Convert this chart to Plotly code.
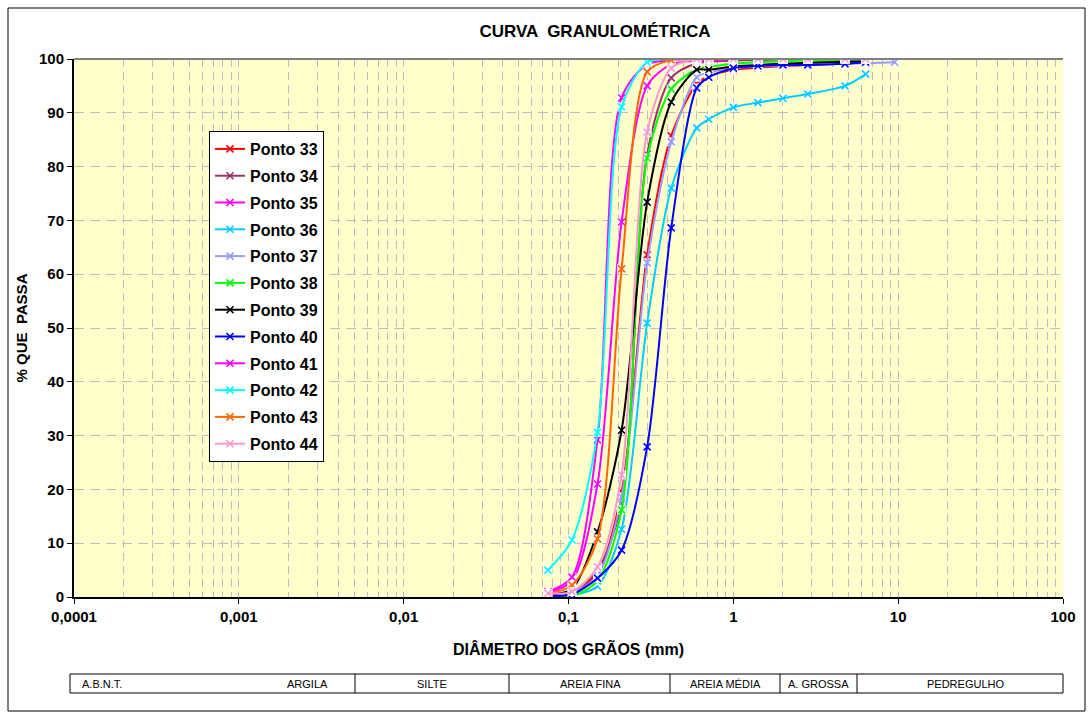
import plotly.graph_objects as go

# ---------------- data ----------------
diametros = [0.075, 0.105, 0.15, 0.21, 0.3, 0.42, 0.6, 0.71, 1.0, 1.41, 2.0, 2.83, 4.76, 6.35, 9.52]

series_names = ["Ponto 33", "Ponto 34", "Ponto 35", "Ponto 36", "Ponto 37", "Ponto 38",
                "Ponto 39", "Ponto 40", "Ponto 41", "Ponto 42", "Ponto 43", "Ponto 44"]
series_colors = ["#FF0000", "#993366", "#FF00FF", "#00CCFF", "#9999FF", "#00FF00",
                 "#000000", "#0000FF", "#FF00FF", "#00FFFF", "#FF6600", "#FF99CC"]

p33 = [0.3, 0.9, 4.5, 19.5, 63.6, 85.7, 95.4, 96.8, 98.0, 98.4, 98.7, 98.9, 99.2, 99.5, None]
p34 = [0.4, 1.0, 5.0, 17.3, 82.3, 96.5, 99.2, 99.5, 99.7, 99.8, 99.9, 100, 100, 100, None]
p35 = [0.8, 3.0, 21.0, 69.7, 95.0, 99.0, 99.7, 99.8, 100, 100, 100, 100, 100, 100, None]
p36 = [0.1, 0.3, 2.0, 12.6, 50.9, 76.0, 87.2, 88.8, 91.0, 91.9, 92.7, 93.5, 95.0, 97.2, None]
p37 = [0.3, 0.8, 4.0, 18.6, 62.1, 84.6, 96.6, 97.5, 98.3, 98.6, 98.8, 99.0, 99.1, 99.2, 99.4]
p38 = [0.1, 0.2, 3.0, 16.2, 81.6, 94.4, 98.1, 98.5, 99.1, 99.4, 99.6, 99.7, 99.8, 100, None]
p39 = [0.5, 1.5, 12.1, 31.0, 73.4, 92.0, 98.0, 98.0, 98.6, 98.9, 99.1, 99.3, 99.5, 99.6, None]
p40 = [0.2, 0.5, 3.5, 8.7, 27.9, 68.6, 94.6, 96.6, 98.3, 98.7, 98.9, 98.9, 99.1, 99.4, None]
p41 = [1.0, 3.7, 29.2, 92.8, 99.0, 99.8, 100, 99.8, 100, 100, 100, 100, 100, 100, None]
p42 = [5.0, 10.6, 30.6, 91.1, 99.4, 100, 100, 100, 100, 100, 100, 100, 100, 100, None]
p43 = [0.6, 2.2, 10.8, 61.0, 97.6, 99.8, 100, 100, 100, 100, 100, 100, 100, 100, None]
p44 = [0.7, 1.0, 5.6, 22.7, 86.4, 98.3, 100, 100, 100, 100, 100, 100, 100, 100, None]
series_values = [p33, p34, p35, p36, p37, p38, p39, p40, p41, p42, p43, p44]

x_tickvals = [0.0001, 0.001, 0.01, 0.1, 1, 10, 100]
x_ticktext = ["0,0001", "0,001", "0,01", "0,1", "1", "10", "100"]

abnt_labels = ["A.B.N.T.", "ARGILA", "SILTE", "AREIA FINA", "AREIA MÉDIA", "A. GROSSA", "PEDREGULHO"]

# ---------------- layout helpers ----------------
W, H = 1092, 719
L, R, T, B = 74, 1063, 59, 597
FONT = "Arial, Liberation Sans, sans-serif"


def px(x):
    return (x - L) / (R - L)


def py(y):
    return (B - y) / (B - T)


fig = go.Figure()

for name, color, vals in zip(series_names, series_colors, series_values):
    xs = [d for d, v in zip(diametros, vals) if v is not None]
    ys = [v for v in vals if v is not None]
    fig.add_trace(go.Scatter(
        x=xs, y=ys, mode="markers", showlegend=False, hoverinfo="skip",
        marker=dict(symbol="square", size=9, color="white", line=dict(width=0)),
    ))
    fig.add_trace(go.Scatter(
        x=xs, y=ys, mode="lines+markers", name=name, legendgroup=name,
        line=dict(color=color, width=2, shape="spline", smoothing=0.8),
        marker=dict(symbol="x-thin", size=7, line=dict(color=color, width=1.6)),
    ))

minor_vals = []
for e in range(-4, 2):
    for k in range(2, 10):
        minor_vals.append(k * 10 ** e)

fig.update_xaxes(
    type="log", range=[-4, 2],
    tickvals=x_tickvals, ticktext=x_ticktext,
    tickfont=dict(family=FONT, size=15, color="black", weight="bold"),
    ticks="outside", ticklen=5, tickcolor="black",
    showline=True, linecolor="black", linewidth=2,
    showgrid=True, gridcolor="#BDBDBD", gridwidth=1, griddash="8px,5px",
    minor=dict(tickvals=minor_vals, showgrid=True, gridcolor="#BDBDBD", gridwidth=1,
               griddash="8px,5px", ticks=""),
    title=dict(text="DIÂMETRO DOS GRÃOS (mm)", standoff=20,
               font=dict(family=FONT, size=16, color="black", weight="bold")),
    zeroline=False,
)
fig.update_yaxes(
    range=[0, 100], dtick=10,
    tickfont=dict(family=FONT, size=15, color="black", weight="bold"),
    ticks="outside", ticklen=5, tickcolor="black",
    showline=True, linecolor="black", linewidth=2,
    showgrid=True, gridcolor="#BDBDBD", gridwidth=1, griddash="10px,6px",
    title=dict(text="% QUE  PASSA", standoff=8,
               font=dict(family=FONT, size=15, color="black", weight="bold")),
    zeroline=False,
)

shapes = []
# top plot border
shapes.append(dict(type="line", xref="paper", yref="paper", x0=0, x1=1, y0=1, y1=1,
                   line=dict(color="#808080", width=2)))
# outer chart frame
shapes.append(dict(type="rect", xref="paper", yref="paper",
                   x0=px(8), x1=px(1085), y0=py(711), y1=py(8),
                   line=dict(color="black", width=1), layer="below"))
# ABNT table
tx0, tx1, ty0, ty1 = 70, 1063, 674, 693
shapes.append(dict(type="rect", xref="paper", yref="paper",
                   x0=px(tx0), x1=px(tx1), y0=py(ty1), y1=py(ty0),
                   line=dict(color="black", width=1)))
for xd in [355, 509, 670, 780, 857]:
    shapes.append(dict(type="line", xref="paper", yref="paper",
                       x0=px(xd), x1=px(xd), y0=py(ty1), y1=py(ty0),
                       line=dict(color="black", width=1)))

annotations = []
label_pos = [(80, "left"), (330, "right"), (432, "center"), (590, "center"),
             (725, "center"), (818, "center"), (965, "center")]
for (xp, anchor), txt in zip(label_pos, abnt_labels):
    annotations.append(dict(text=txt, xref="paper", yref="paper", x=px(xp), y=py(684),
                            xanchor=anchor, yanchor="middle", showarrow=False,
                            font=dict(family=FONT, size=11, color="black")))

fig.update_layout(
    width=W, height=H,
    margin=dict(l=L, r=W - R, t=T, b=H - B),
    paper_bgcolor="white", plot_bgcolor="#FFFFCC",
    title=dict(text="CURVA  GRANULOMÉTRICA", x=595 / W, xanchor="center",
               y=1 - 31 / H, yanchor="middle",
               font=dict(family=FONT, size=17, color="black", weight="bold")),
    legend=dict(x=px(209), y=py(131), xanchor="left", yanchor="top",
                bgcolor="white", bordercolor="black", borderwidth=1,
                font=dict(family=FONT, size=16, color="black", weight="bold"),
                tracegroupgap=3, itemwidth=30),
    shapes=shapes, annotations=annotations,
    showlegend=True,
)

fig.write_html("out.html", config={"displayModeBar": False},
               post_script="document.body.style.margin='0';")
